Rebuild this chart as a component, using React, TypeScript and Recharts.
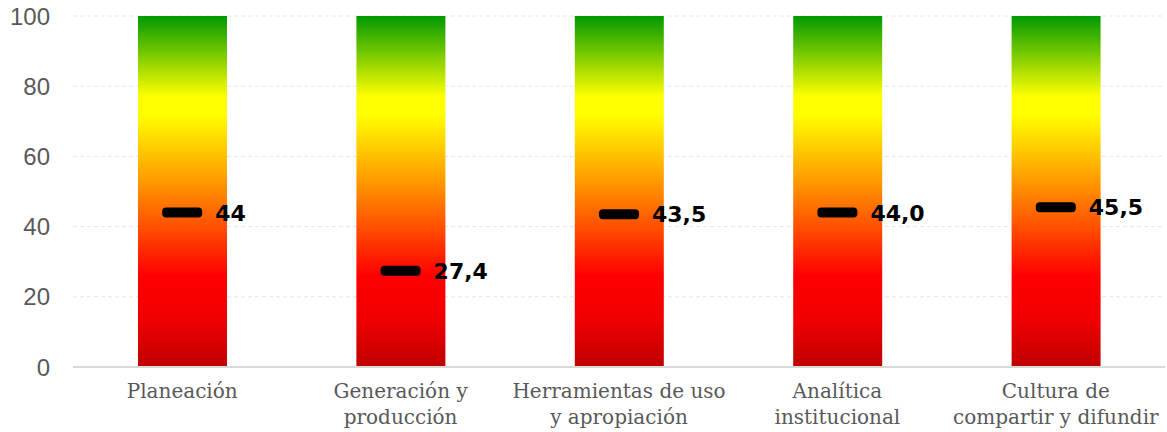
import { Bar, CartesianGrid, ComposedChart, LabelList, Line, XAxis, YAxis } from "recharts";

const categories = [
  "Planeación",
  "Generación y\nproducción",
  "Herramientas de uso\ny apropiación",
  "Analítica\ninstitucional",
  "Cultura de\ncompartir y difundir",
];
const scores = [44, 27.4, 43.5, 44.0, 45.5];
const scoreLabels = ["44", "27,4", "43,5", "44,0", "45,5"];
const scaleMax = [100, 100, 100, 100, 100];
const yTicks = [0, 20, 40, 60, 80, 100];

const data = categories.map((name, i) => ({
  name,
  full: scaleMax[i],
  score: scores[i],
  label: scoreLabels[i],
}));

const CategoryTick = ({ x, y, payload }: any) => {
  const lines = String(payload.value).split("\n");
  return (
    <text
      x={x}
      y={y}
      textAnchor="middle"
      fill="#595959"
      fontSize={20}
      fontFamily="'DejaVu Serif', serif"
    >
      {lines.map((line, i) => (
        <tspan key={i} x={x} dy={i === 0 ? 23 : 26}>
          {line}
        </tspan>
      ))}
    </text>
  );
};

const Marker = ({ cx, cy }: any) => {
  if (cx == null || cy == null) return null;
  return <rect x={cx - 20} y={cy - 5} width={40} height={10} rx={4} fill="#000" />;
};

const ScoreLabel = ({ x, y, value }: any) => (
  <text
    x={x + 33}
    y={y}
    dy={8}
    fill="#000"
    fontSize={22}
    fontWeight="bold"
    fontFamily="'DejaVu Sans', sans-serif"
  >
    {value}
  </text>
);

export default function App() {
  return (
    <div style={{ position: "absolute", left: 0, top: 0 }}>
      <ComposedChart
        width={1167}
        height={432}
        data={data}
        margin={{ top: 16, right: 2, left: 0, bottom: 0 }}
      >
        <defs>
          <linearGradient id="scaleGrad" x1="0" y1="0" x2="0" y2="1">
            <stop offset="0" stopColor="#009900" />
            <stop offset="0.23" stopColor="#ffff00" />
            <stop offset="0.28" stopColor="#ffff00" />
            <stop offset="0.46" stopColor="#ffa000" />
            <stop offset="0.74" stopColor="#ff0000" />
            <stop offset="0.86" stopColor="#f00000" />
            <stop offset="1" stopColor="#c00000" />
          </linearGradient>
        </defs>
        <CartesianGrid vertical={false} stroke="#e6e6e6" strokeDasharray="4 3" />
        <XAxis
          dataKey="name"
          height={65}
          tickLine={false}
          axisLine={{ stroke: "#d9d9d9", strokeWidth: 2 }}
          tick={<CategoryTick />}
          interval={0}
        />
        <YAxis
          domain={[0, 100]}
          ticks={yTicks}
          width={73}
          tickLine={false}
          axisLine={false}
          tickMargin={17}
          tick={{ fill: "#595959", fontSize: 24, fontFamily: "'Liberation Sans', Arial, sans-serif" }}
        />
        <Bar dataKey="full" fill="url(#scaleGrad)" barSize={89} isAnimationActive={false} />
        <Line
          dataKey="score"
          stroke="none"
          dot={<Marker />}
          activeDot={false}
          isAnimationActive={false}
        >
          <LabelList dataKey="label" content={<ScoreLabel />} />
        </Line>
      </ComposedChart>
    </div>
  );
}
